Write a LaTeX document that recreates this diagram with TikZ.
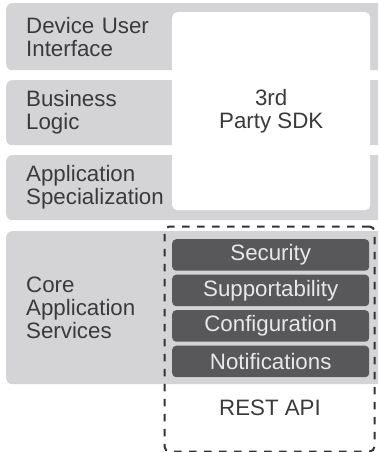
\documentclass[tikz,border=0pt]{standalone}
\usepackage{fontspec}
\setmainfont{Liberation Sans}
\usepackage{tikz}
\definecolor{layergray}{HTML}{D4D4D6}
\definecolor{servicegray}{HTML}{58585A}
\definecolor{labelink}{HTML}{3A3A3C}
\definecolor{serviceink}{HTML}{E8E8E8}
\tikzset{
  layer/.style={fill=layergray, rounded corners=6pt, anchor=north west, minimum width=384pt,
    inner xsep=20pt, text width=344pt, align=left, text=labelink},
  sdkbox/.style={fill=white, rounded corners=5pt, anchor=north west, minimum width=198pt,
    minimum height=198pt, align=center, text=labelink},
  service/.style={fill=servicegray, rounded corners=4pt, anchor=north west, minimum width=197pt,
    minimum height=31.5pt, inner sep=0pt, text=serviceink},
  restbox/.style={draw=labelink!90!black, line width=2pt, dash pattern=on 7.5pt off 7.5pt, rounded corners=5pt,
    anchor=north west, minimum width=210pt, minimum height=225pt, inner sep=0pt}
}

\begin{document}
\begin{tikzpicture}[x=1pt, y=-1pt, font=\fontsize{22.3}{23}\selectfont]
    \useasboundingbox (0, 0) rectangle (378, 452);
    \clip (0, 0) rectangle (378, 452);
    \node[layer, minimum height=67pt] (ui) at (6, 3) {Device User\\Interface};
    \node[layer, minimum height=65pt] (logic) at (6, 80) {Business\\Logic};
    \node[layer, minimum height=65pt] (spec) at (6, 155) {Application\\Specialization};
    \node[layer, minimum height=153pt] (core) at (6, 231) {Core\\Application\\Services};
    \node[sdkbox] (sdk) at (172, 12) {3rd\\Party SDK};
    \foreach \name/\top in {Security/239, Supportability/274.5, Configuration/310, Notifications/345.5}
        \node[service] (\name) at (172, \top) {\name};
    \node[restbox] (rest) at (163.5, 225.5) {};
    \node[text=labelink] (restlabel) at (270, 408) {REST API};
\end{tikzpicture}
\end{document}
